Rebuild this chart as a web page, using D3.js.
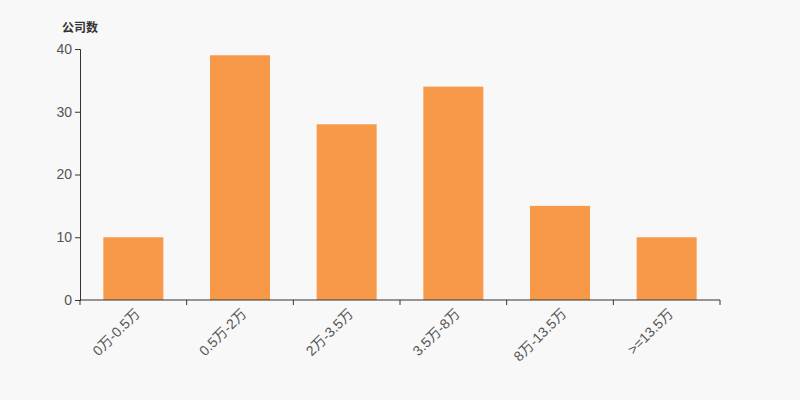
<!DOCTYPE html>
<html>
<head>
<meta charset="utf-8">
<script src="https://cdn.jsdelivr.net/npm/d3@7"></script>
<style>
  body { margin: 0; background: #f8f8f8; }
  svg { display: block; }
</style>
</head>
<body>
<div id="chart"></div>
<script>
// categories and counts
var categories = ["0万-0.5万", "0.5万-2万", "2万-3.5万", "3.5万-8万", "8万-13.5万", ">=13.5万"];
var counts = [10, 39, 28, 34, 15, 10];
var yTicks = [0, 10, 20, 30, 40];

var width = 800, height = 400;
var margin = { top: 49, right: 80, bottom: 100, left: 80 };
var labelFont = "'Liberation Sans', Arial, 'Noto Sans CJK SC', sans-serif";

var svg = d3.select("#chart").append("svg")
    .attr("width", width)
    .attr("height", height)
    .style("background", "#f8f8f8")
    .style("font-family", labelFont);

var x = d3.scaleBand()
    .domain(categories)
    .range([margin.left, width - margin.right])
    .paddingInner(0.4375)
    .paddingOuter(0.21875);

var y = d3.scaleLinear()
    .domain([0, 40])
    .range([height - margin.bottom, margin.top]);

// bars
svg.selectAll("rect.bar")
    .data(counts)
    .enter().append("rect")
    .attr("class", "bar")
    .attr("x", function(d, i) { return x(categories[i]); })
    .attr("y", function(d) { return y(d); })
    .attr("width", x.bandwidth())
    .attr("height", function(d) { return y(0) - y(d); })
    .style("fill", "#f8994a");

// y axis
var yAxis = svg.append("g")
    .attr("transform", "translate(" + margin.left + ",0)")
    .call(d3.axisLeft(y).tickValues(yTicks).tickSize(5).tickPadding(3));

// x axis, ticks on band boundaries
var bounds = d3.range(categories.length + 1).map(function(i) {
    return margin.left + i * (width - margin.left - margin.right) / categories.length;
});
var xAxis = svg.append("g")
    .attr("transform", "translate(0," + y(0) + ")");
xAxis.append("line")
    .attr("x1", margin.left).attr("x2", width - margin.right)
    .attr("stroke", "#333");
xAxis.selectAll("line.tick")
    .data(bounds)
    .enter().append("line")
    .attr("class", "tick")
    .attr("x1", function(d) { return d; })
    .attr("x2", function(d) { return d; })
    .attr("y1", 0).attr("y2", 5)
    .attr("stroke", "#333");
xAxis.selectAll("text")
    .data(categories)
    .enter().append("text")
    .attr("transform", function(d) {
        return "translate(" + (x(d) + x.bandwidth() / 2 + 4) + ",11) rotate(-45)";
    })
    .attr("text-anchor", "end")
    .attr("dy", "0.35em")
    .style("font-size", "14px")
    .style("fill", "#555")
    .text(function(d) { return d; });

yAxis.select(".domain").attr("stroke", "#333");
yAxis.selectAll(".tick line").attr("stroke", "#333");
yAxis.selectAll(".tick text")
    .style("font-size", "14px")
    .style("fill", "#555")
    .style("font-family", labelFont);

// axis title
svg.append("text")
    .attr("x", 62)
    .attr("y", 32)
    .style("font-size", "12px")
    .style("font-weight", "bold")
    .style("fill", "#333")
    .style("font-family", "'Noto Sans CJK SC', sans-serif")
    .text("公司数");
</script>
</body>
</html>
